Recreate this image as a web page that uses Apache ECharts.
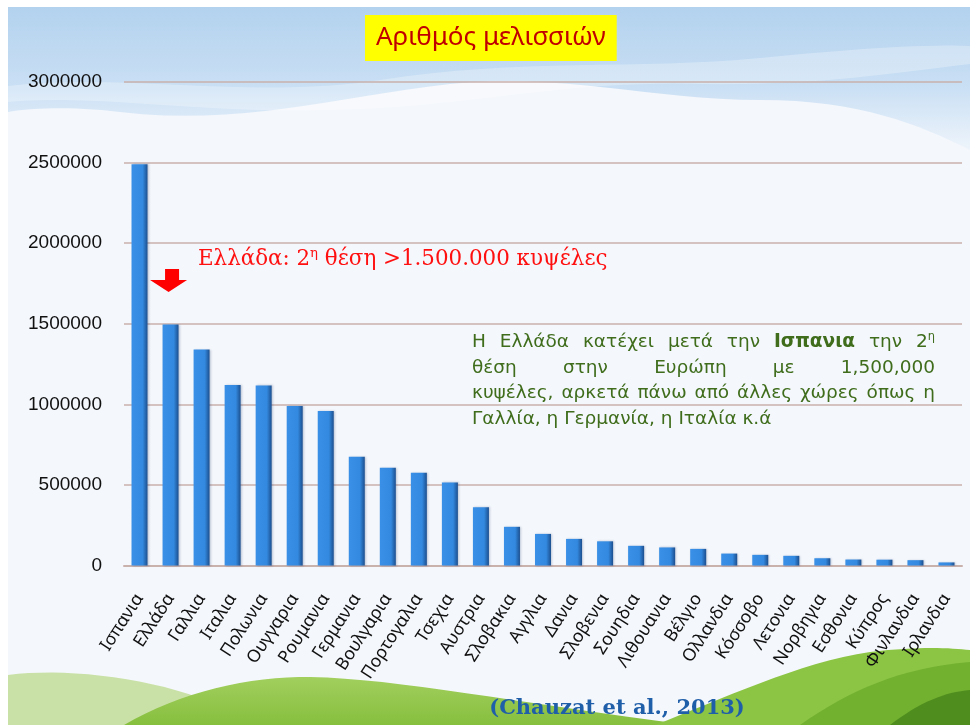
<!DOCTYPE html>
<html>
<head>
<meta charset="utf-8" />
<title>Αριθμός μελισσιών</title>
<script src="https://cdn.jsdelivr.net/npm/echarts@6/dist/echarts.min.js"></script>
<style>
*{padding:0;margin:0;}
#main{width:970px;height:725px;}
</style>
</head>
<body>
<div id="main"></div>
<script type="text/javascript">
// χώρες και αριθμός μελισσιών (Chauzat et al., 2013)
var countries = ['Ισπανια', 'Ελλάδα', 'Γαλλια', 'Ιταλια', 'Πολωνια', 'Ουγγαρια', 'Ρουμανια',
  'Γερμανια', 'Βουλγαρια', 'Πορτογαλια', 'Τσεχια', 'Αυστρια', 'Σλοβακια', 'Αγγλια', 'Δανια',
  'Σλοβενια', 'Σουηδια', 'Λιθουανια', 'Βέλγιο', 'Ολλανδια', 'Κόσσοβο', 'Λετονια', 'Νορβηγια',
  'Εσθονια', 'Κύπρος', 'Φινλανδια', 'Ιρλανδια'];
var hives = [2490000, 1495000, 1340000, 1120000, 1117000, 990000, 958000,
  675000, 607000, 576000, 515000, 362000, 240000, 196000, 165000,
  150000, 122000, 112000, 103000, 74000, 66000, 60000, 45000,
  37000, 36000, 33000, 19000];
var yMin = 0, yMax = 3000000, yStep = 500000;

var titleText = 'Αριθμός μελισσιών';
var redNote = 'Ελλάδα: 2^η θέση >1.500.000 κυψέλες';
var greenNote = [
  'Η Ελλάδα κατέχει μετά την *Ισπανια την 2^η',
  'θέση στην Ευρώπη με 1,500,000',
  'κυψέλες, αρκετά πάνω από άλλες χώρες όπως η',
  'Γαλλία, η Γερμανία, η Ιταλία κ.ά'
];
var sourceText = '(Chauzat et al., 2013)';

// --- μέτρηση κειμένου για στοίχιση ---
var ctx = document.createElement('canvas').getContext('2d');
function fontOf(size, family, bold) {
  return (bold ? 'bold ' : '') + size + 'px ' + family;
}
function measure(t, font) { ctx.font = font; return ctx.measureText(t).width; }

// λέξη -> κομμάτια (bold με *, εκθέτης με ^)
function pieces(word) {
  var bold = false, out = [];
  if (word.charAt(0) === '*') { bold = true; word = word.slice(1); }
  var parts = word.split('^');
  out.push({ t: parts[0], b: bold, sup: false });
  if (parts[1]) out.push({ t: parts[1], b: bold, sup: true });
  return out;
}

function lineEls(line, x, base, size, family, color, width) {
  var words = line.split(' ').map(pieces);
  var widths = words.map(function (w) {
    return w.reduce(function (s, p) {
      return s + measure(p.t, fontOf(p.sup ? size * 0.62 : size, family, p.b));
    }, 0);
  });
  var total = widths.reduce(function (a, b) { return a + b; }, 0);
  var gap = width ? (width - total) / (words.length - 1) : measure(' ', fontOf(size, family));
  var els = [], cx = x;
  words.forEach(function (w, i) {
    var px = cx;
    w.forEach(function (p) {
      var fs = p.sup ? size * 0.62 : size;
      var f = fontOf(fs, family, p.b);
      els.push({
        type: 'text', x: px, y: base - (p.sup ? size * 0.42 : 0) - fs * 0.36, z: 10,
        style: { text: p.t, font: f, fill: color, textAlign: 'left', textVerticalAlign: 'middle' }
      });
      px += measure(p.t, f);
    });
    cx += widths[i] + gap;
  });
  return els;
}

// απλό "M L C Z" -> σημεία πολυγώνου
function pts(d) {
  var tok = d.replace(/([MLCZ])/g, ' $1 ').trim().split(/[\s,]+/);
  var out = [], i = 0, cur = [0, 0];
  while (i < tok.length) {
    var c = tok[i++];
    if (c === 'M' || c === 'L') {
      cur = [+tok[i++], +tok[i++]]; out.push(cur);
    } else if (c === 'C') {
      var p1 = [+tok[i++], +tok[i++]], p2 = [+tok[i++], +tok[i++]], p3 = [+tok[i++], +tok[i++]];
      for (var k = 1; k <= 16; k++) {
        var t = k / 16, u = 1 - t;
        out.push([
          u * u * u * cur[0] + 3 * u * u * t * p1[0] + 3 * u * t * t * p2[0] + t * t * t * p3[0],
          u * u * u * cur[1] + 3 * u * u * t * p1[1] + 3 * u * t * t * p2[1] + t * t * t * p3[1]
        ]);
      }
      cur = p3;
    }
  }
  return out;
}
function shape(d, fill, z) {
  return { type: 'polygon', z: z, silent: true, shape: { points: pts(d) }, style: { fill: fill } };
}

// --- φόντο ---
var bg = [
  shape('M8,7 L970,7 L970,150 C920,125 860,100 760,100 C650,100 560,72 450,84 C330,98 240,126 120,112 C70,106 30,108 8,112 Z',
    new echarts.graphic.LinearGradient(0, 0, 0, 1, [
      { offset: 0, color: '#b3d2ee' }, { offset: 0.55, color: '#c9dff4' }, { offset: 1, color: '#eef4fb' }]), -10),
  shape('M8,86 C120,72 250,100 380,80 C520,58 640,70 760,58 C860,48 930,44 970,46 L970,64 C900,72 820,86 700,84 C560,80 470,108 330,110 C200,114 100,94 8,102 Z',
    'rgba(255,255,255,0.28)', -9),
  shape('M8,675 C60,668 140,676 200,698 C230,710 250,720 262,725 L8,725 Z', '#c9e1a6', -9),
  shape('M124,725 C180,692 250,676 310,677 C400,679 510,702 690,725 Z',
    new echarts.graphic.LinearGradient(0, 0, 0, 1, [
      { offset: 0, color: '#a2cf5e' }, { offset: 1, color: '#86bf3e' }]), -9),
  shape('M655,725 C720,700 800,662 870,652 C920,646 950,648 970,650 L970,725 Z', '#8cc544', -9),
  shape('M800,725 C850,690 900,668 970,662 L970,725 Z', '#72b030', -8),
  shape('M890,725 C920,702 945,692 970,690 L970,725 Z', '#4f8e1e', -8),
  { type: 'rect', z: -7, silent: true, shape: { x: 0, y: 0, width: 970, height: 7 }, style: { fill: '#ffffff' } },
  { type: 'rect', z: -7, silent: true, shape: { x: 0, y: 0, width: 8, height: 725 }, style: { fill: '#ffffff' } }
];

var notes = [];
notes = notes.concat(lineEls(redNote, 198, 267, 21.4, '"DejaVu Serif"', '#ff1010'));
var greenFamily = '"DejaVu Sans"';
greenNote.forEach(function (ln, i) {
  var w = i < 3 ? 463 : null;
  notes = notes.concat(lineEls(ln, 472, 349 + i * 25.5, 18.5, greenFamily, '#3f6d1c', w));
});
notes.push({
  type: 'text', x: 617, y: 709, z: 10,
  style: { text: sourceText, font: 'bold 21px "DejaVu Serif"', fill: '#1f5ea8', textAlign: 'center', textVerticalAlign: 'middle' }
});

var myChart = echarts.init(document.getElementById('main'));
var option = {
  backgroundColor: '#f4f7fc',
  animation: false,
  title: {
    text: titleText,
    left: 365, top: 15,
    backgroundColor: '#ffff00',
    padding: [10, 11, 10, 11],
    textStyle: { color: '#c00000', fontSize: 26, fontWeight: 'normal', fontFamily: 'Noto Sans' }
  },
  grid: { left: 124, right: 8, top: 82, bottom: 159.5 },
  xAxis: {
    type: 'category',
    data: countries,
    axisLine: { show: true, lineStyle: { color: '#c9b1ac', width: 2 } },
    axisTick: { show: false },
    axisLabel: {
      interval: 0, rotate: 57, margin: 30,
      color: '#111', fontSize: 17.5, fontFamily: 'Noto Sans'
    }
  },
  yAxis: {
    type: 'value',
    min: yMin, max: yMax, interval: yStep,
    axisLine: { show: false },
    axisTick: { show: false },
    splitLine: { lineStyle: { color: '#c9b1ac', width: 1.5 } },
    axisLabel: {
      color: '#111', fontSize: 19, fontFamily: 'Liberation Sans', margin: 22,
      formatter: function (v) { return String(v); }
    }
  },
  series: [{
    type: 'bar',
    data: hives,
    barWidth: 16,
    itemStyle: {
      color: new echarts.graphic.LinearGradient(0, 0, 1, 0, [
        { offset: 0, color: '#3a90e6' },
        { offset: 0.7, color: '#3389df' },
        { offset: 1, color: '#1c4f8f' }
      ]),
      shadowColor: 'rgba(30,60,110,0.25)', shadowBlur: 2, shadowOffsetX: 1
    },
    markPoint: {
      symbol: 'path://M15,0 L29,0 L29,11 L37,11 L18.5,23 L0,11 L15,11 Z',
      symbolSize: [37, 23],
      symbolOffset: [-2, -44],
      itemStyle: { color: '#ff0000' },
      label: { show: false },
      data: [{ coord: [countries[1], hives[1]] }]
    }
  }],
  graphic: { elements: bg.concat(notes) }
};
myChart.setOption(option);
</script>
</body>
</html>
